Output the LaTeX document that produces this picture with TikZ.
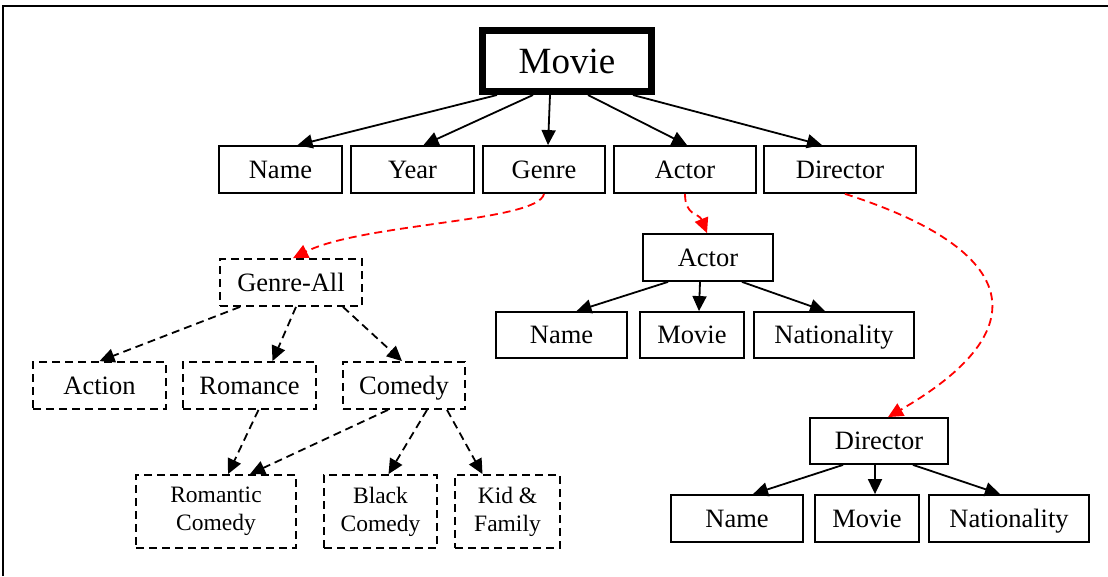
\documentclass[tikz,border=0pt]{standalone}
\usepackage{fontspec}
\setmainfont{Liberation Serif}
\usetikzlibrary{arrows.meta}
\begin{document}
\begin{tikzpicture}[x=1pt,y=-1pt,
  lbl/.style={font=\fontsize{26.5}{31}\selectfont, text height=17.5pt, text depth=0pt},
  attr/.style={draw, line width=1.8pt, inner sep=0pt, lbl},
  cat/.style={attr, dash pattern=on 8pt off 5pt},
  sub/.style={draw, line width=1.8pt, inner sep=0pt, dash pattern=on 8pt off 5pt,
    align=center, font=\fontsize{23.5}{28}\selectfont},
  root/.style={draw, line width=7pt, inner sep=0pt,
    font=\fontsize{37}{44}\selectfont, text height=24.5pt, text depth=0pt},
  edge/.style={line width=1.8pt, -{Triangle[length=15pt,width=14pt]}},
  dedge/.style={edge, dash pattern=on 8pt off 5pt},
  redge/.style={line width=1.8pt, red, dash pattern=on 8pt off 5pt,
    -{Triangle[length=15pt,width=14pt]}}
]
\useasboundingbox (0,0) rectangle (1108,576);
% page frame (top and left edges)
\draw[line width=1.8pt] (3,576) -- (3,6) -- (1108,6);

% root entity
\node[root, minimum width=169pt, minimum height=61pt] (movie) at (567,61) {Movie};

% attributes of Movie
\node[attr, minimum width=123pt, minimum height=47pt] (name)     at (280.5,169.5) {Name};
\node[attr, minimum width=123pt, minimum height=47pt] (year)     at (412.5,169.5) {Year};
\node[attr, minimum width=122pt, minimum height=47pt] (genre)    at (544,169.5)   {Genre};
\node[attr, minimum width=142pt, minimum height=47pt] (actor)    at (685,169.5)   {Actor};
\node[attr, minimum width=152pt, minimum height=47pt] (director) at (840,169.5)   {Director};

\draw[edge] ([xshift=-70pt]movie.south) -- ([xshift=17pt]name.north);
\draw[edge] ([xshift=-34pt]movie.south) -- ([xshift=11pt]year.north);
\draw[edge] ([xshift=-17pt]movie.south) -- ([xshift=4pt]genre.north);
\draw[edge] ([xshift=21pt]movie.south)  -- ([xshift=2pt]actor.north);
\draw[edge] ([xshift=66pt]movie.south)  -- ([xshift=-18pt]director.north);

% genre hierarchy
\node[cat, minimum width=142pt, minimum height=47pt] (genreall) at (291,282.5) {Genre-All};
\node[cat, minimum width=133pt, minimum height=47pt] (action)   at (99.5,385.5) {Action};
\node[cat, minimum width=133pt, minimum height=47pt] (romance)  at (249.5,385.5) {Romance};
\node[cat, minimum width=122pt, minimum height=47pt] (comedy)   at (404,385.5) {Comedy};
\node[sub, minimum width=160pt, minimum height=73pt] (romcom)   at (216,511.5) {Romantic\\Comedy};
\node[sub, minimum width=113pt, minimum height=73pt] (black)    at (380.5,511.5) {Black\\Comedy};
\node[sub, minimum width=105pt, minimum height=73pt] (kid)      at (507.5,511.5) {Kid \&\\Family};

\draw[dedge] ([xshift=-51pt]genreall.south) -- ([xshift=0pt]action.north);
\draw[dedge] ([xshift=5pt]genreall.south)   -- ([xshift=23pt]romance.north);
\draw[dedge] ([xshift=52pt]genreall.south)  -- ([xshift=-2pt]comedy.north);
\draw[dedge] ([xshift=9pt]romance.south)    -- ([xshift=12pt]romcom.north);
\draw[dedge] ([xshift=-16pt]comedy.south)   -- ([xshift=34pt]romcom.north);
\draw[dedge] ([xshift=23pt]comedy.south)    -- ([xshift=8pt]black.north);
\draw[dedge] ([xshift=43pt]comedy.south)    -- ([xshift=-25pt]kid.north);

% actor entity
\node[attr, minimum width=130pt, minimum height=47pt] (actor2) at (708,257.5) {Actor};
\node[attr, minimum width=131pt, minimum height=46pt] (aname)  at (561.5,335) {Name};
\node[attr, minimum width=104pt, minimum height=46pt] (amovie) at (692,335) {Movie};
\node[attr, minimum width=160pt, minimum height=46pt] (anat)   at (834,335) {Nationality};

\draw[edge] ([xshift=-40pt]actor2.south) -- ([xshift=15pt]aname.north);
\draw[edge] ([xshift=-8pt]actor2.south)  -- ([xshift=7pt]amovie.north);
\draw[edge] ([xshift=34pt]actor2.south)  -- ([xshift=-9pt]anat.north);

% director entity
\node[attr, minimum width=138pt, minimum height=46pt] (director2) at (879,441) {Director};
\node[attr, minimum width=132pt, minimum height=47pt] (dname)  at (737,518.5) {Name};
\node[attr, minimum width=104pt, minimum height=47pt] (dmovie) at (867,518.5) {Movie};
\node[attr, minimum width=160pt, minimum height=47pt] (dnat)   at (1009,518.5) {Nationality};

\draw[edge] ([xshift=-36pt]director2.south) -- ([xshift=16pt]dname.north);
\draw[edge] ([xshift=-4pt]director2.south)  -- ([xshift=8pt]dmovie.north);
\draw[edge] ([xshift=34pt]director2.south)  -- ([xshift=-9pt]dnat.north);

% references to the expanded entities
\draw[redge] (genre.south) .. controls +(-6,28) and +(70,-35) .. ([xshift=2pt]genreall.north);
\draw[redge] (actor.south) .. controls +(0,22) and +(-8,-20) .. ([xshift=-1pt]actor2.north);
\draw[redge] ([xshift=5pt]director.south) .. controls +(175,56) and +(152,-88) .. ([xshift=9pt]director2.north);
\end{tikzpicture}
\end{document}
